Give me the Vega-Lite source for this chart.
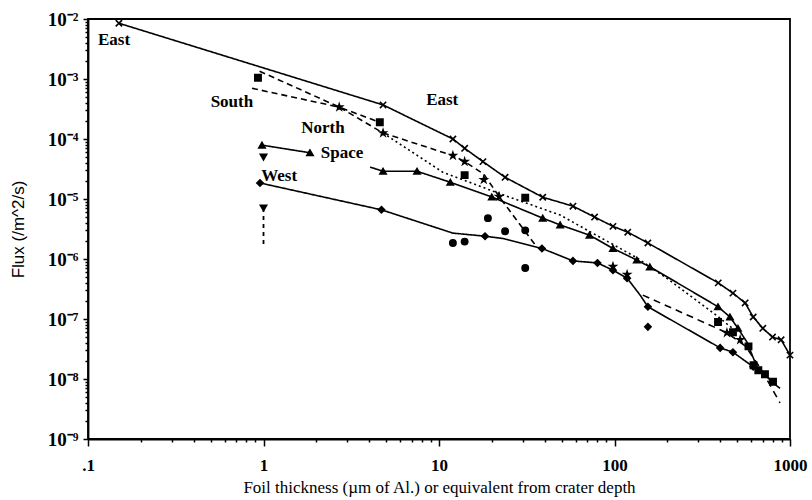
{
  "$schema": "https://vega.github.io/schema/vega-lite/v6.json",
  "autosize": "none",
  "width": 702,
  "height": 420,
  "padding": {"left": 88, "top": 19, "right": 22, "bottom": 61},
  "background": "white",
  "config": {
    "view": {"stroke": "black", "strokeWidth": 1.8},
    "axis": {"domainColor": "black", "domainWidth": 1.8, "tickColor": "black", "labelColor": "black", "titleColor": "black", "grid": false}
  },
  "datasets": {
    "lines": [
      {"series": "East", "x": 0.15, "y": 8.5e-3}, {"series": "East", "x": 4.8, "y": 3.7e-4}, {"series": "East", "x": 12, "y": 1e-4}, {"series": "East", "x": 14, "y": 7e-5}, {"series": "East", "x": 17.8, "y": 4.2e-5}, {"series": "East", "x": 23.8, "y": 2.3e-5}, {"series": "East", "x": 39, "y": 1.07e-5}, {"series": "East", "x": 58, "y": 7.6e-6}, {"series": "East", "x": 77, "y": 5e-6}, {"series": "East", "x": 98, "y": 3.5e-6}, {"series": "East", "x": 119, "y": 2.8e-6}, {"series": "East", "x": 155, "y": 1.85e-6}, {"series": "East", "x": 390, "y": 4e-7}, {"series": "East", "x": 473, "y": 2.7e-7}, {"series": "East", "x": 555, "y": 1.85e-7}, {"series": "East", "x": 617, "y": 1.08e-7}, {"series": "East", "x": 700, "y": 7e-8}, {"series": "East", "x": 795, "y": 5e-8}, {"series": "East", "x": 890, "y": 4.5e-8}, {"series": "East", "x": 1000, "y": 2.5e-8},
      {"series": "South", "x": 0.95, "y": 1.35e-3}, {"series": "South", "x": 2.7, "y": 3.4e-4}, {"series": "South", "x": 4.6, "y": 1.9e-4},
      {"series": "North", "x": 0.86, "y": 7e-4}, {"series": "North", "x": 2.7, "y": 3.4e-4}, {"series": "North", "x": 4.8, "y": 1.26e-4}, {"series": "North", "x": 12, "y": 5.3e-5}, {"series": "North", "x": 14, "y": 4.2e-5}, {"series": "North", "x": 18, "y": 2.6e-5}, {"series": "North", "x": 22, "y": 1.1e-5}, {"series": "North", "x": 36, "y": 1.6e-6},
      {"series": "North (dotted)", "x": 4.8, "y": 1.26e-4}, {"series": "North (dotted)", "x": 10.5, "y": 2.8e-5}, {"series": "North (dotted)", "x": 21, "y": 1.3e-5}, {"series": "North (dotted)", "x": 49, "y": 5.4e-6}, {"series": "North (dotted)", "x": 134, "y": 1.05e-6}, {"series": "North (dotted)", "x": 200, "y": 4.7e-7}, {"series": "North (dotted)", "x": 389, "y": 1.1e-7}, {"series": "North (dotted)", "x": 500, "y": 6e-8},
      {"series": "Space (start)", "x": 0.98, "y": 7.9e-5}, {"series": "Space (start)", "x": 1.84, "y": 5.9e-5},
      {"series": "Space", "x": 4.05, "y": 3.4e-5}, {"series": "Space", "x": 4.8, "y": 2.9e-5}, {"series": "Space", "x": 7.5, "y": 2.9e-5}, {"series": "Space", "x": 11.6, "y": 1.9e-5}, {"series": "Space", "x": 20, "y": 1.08e-5}, {"series": "Space", "x": 39, "y": 4.8e-6}, {"series": "Space", "x": 49, "y": 3.7e-6}, {"series": "Space", "x": 72, "y": 2.5e-6}, {"series": "Space", "x": 98, "y": 1.5e-6}, {"series": "Space", "x": 134, "y": 9.6e-7}, {"series": "Space", "x": 159, "y": 7.4e-7}, {"series": "Space", "x": 182, "y": 5.9e-7}, {"series": "Space", "x": 389, "y": 1.6e-7}, {"series": "Space", "x": 455, "y": 1.08e-7}, {"series": "Space", "x": 505, "y": 7e-8}, {"series": "Space", "x": 569, "y": 4.1e-8}, {"series": "Space", "x": 647, "y": 1.6e-8}, {"series": "Space", "x": 800, "y": 8.6e-9}, {"series": "Space", "x": 877, "y": 7e-9},
      {"series": "West", "x": 0.955, "y": 1.85e-5}, {"series": "West", "x": 4.7, "y": 6.6e-6}, {"series": "West", "x": 12, "y": 2.7e-6}, {"series": "West", "x": 18.3, "y": 2.4e-6}, {"series": "West", "x": 23, "y": 2.2e-6}, {"series": "West", "x": 38.6, "y": 1.5e-6}, {"series": "West", "x": 58, "y": 9.3e-7}, {"series": "West", "x": 80, "y": 8.6e-7}, {"series": "West", "x": 98, "y": 6.5e-7}, {"series": "West", "x": 118, "y": 4.8e-7}, {"series": "West", "x": 140, "y": 2.5e-7}, {"series": "West", "x": 155, "y": 1.6e-7}, {"series": "West", "x": 400, "y": 3.3e-8}, {"series": "West", "x": 473, "y": 2.8e-8}, {"series": "West", "x": 617, "y": 1.6e-8}, {"series": "West", "x": 700, "y": 1.25e-8}, {"series": "West", "x": 800, "y": 9e-9},
      {"series": "West (dashed)", "x": 145, "y": 2.5e-7}, {"series": "West (dashed)", "x": 437, "y": 5.9e-8}, {"series": "West (dashed)", "x": 560, "y": 3.5e-8}, {"series": "West (dashed)", "x": 700, "y": 1.3e-8}, {"series": "West (dashed)", "x": 877, "y": 4e-9}
    ],
    "points": [
      {"series": "East", "x": 0.15, "y": 8.5e-3}, {"series": "East", "x": 4.8, "y": 3.7e-4}, {"series": "East", "x": 12, "y": 1e-4}, {"series": "East", "x": 14, "y": 7e-5}, {"series": "East", "x": 17.8, "y": 4.2e-5}, {"series": "East", "x": 23.8, "y": 2.3e-5}, {"series": "East", "x": 39, "y": 1.07e-5}, {"series": "East", "x": 58, "y": 7.6e-6}, {"series": "East", "x": 77, "y": 5e-6}, {"series": "East", "x": 98, "y": 3.5e-6}, {"series": "East", "x": 119, "y": 2.8e-6}, {"series": "East", "x": 155, "y": 1.85e-6}, {"series": "East", "x": 390, "y": 4e-7}, {"series": "East", "x": 473, "y": 2.7e-7}, {"series": "East", "x": 555, "y": 1.85e-7}, {"series": "East", "x": 617, "y": 1.08e-7}, {"series": "East", "x": 700, "y": 7e-8}, {"series": "East", "x": 795, "y": 5e-8}, {"series": "East", "x": 890, "y": 4.5e-8}, {"series": "East", "x": 1000, "y": 2.5e-8},
      {"series": "South", "x": 0.93, "y": 1.05e-3}, {"series": "South", "x": 4.6, "y": 1.9e-4}, {"series": "South", "x": 14, "y": 2.5e-5}, {"series": "South", "x": 31, "y": 1.05e-5}, {"series": "South", "x": 389, "y": 8.9e-8}, {"series": "South", "x": 473, "y": 6e-8}, {"series": "South", "x": 580, "y": 3.5e-8}, {"series": "South", "x": 620, "y": 1.7e-8}, {"series": "South", "x": 660, "y": 1.4e-8}, {"series": "South", "x": 720, "y": 1.2e-8}, {"series": "South", "x": 800, "y": 9e-9},
      {"series": "North", "x": 2.7, "y": 3.4e-4}, {"series": "North", "x": 4.8, "y": 1.26e-4}, {"series": "North", "x": 12, "y": 5.3e-5}, {"series": "North", "x": 14, "y": 4.2e-5}, {"series": "North", "x": 18, "y": 2.1e-5}, {"series": "North", "x": 22, "y": 1.1e-5}, {"series": "North", "x": 98, "y": 7.5e-7}, {"series": "North", "x": 118, "y": 5.5e-7}, {"series": "North", "x": 437, "y": 5.9e-8}, {"series": "North", "x": 520, "y": 4.5e-8},
      {"series": "Space", "x": 0.98, "y": 7.9e-5}, {"series": "Space", "x": 1.84, "y": 5.9e-5}, {"series": "Space", "x": 4.8, "y": 2.9e-5}, {"series": "Space", "x": 7.5, "y": 2.9e-5}, {"series": "Space", "x": 11.6, "y": 1.9e-5}, {"series": "Space", "x": 20, "y": 1.08e-5}, {"series": "Space", "x": 39, "y": 4.8e-6}, {"series": "Space", "x": 49, "y": 3.7e-6}, {"series": "Space", "x": 72, "y": 2.5e-6}, {"series": "Space", "x": 98, "y": 1.5e-6}, {"series": "Space", "x": 134, "y": 9.6e-7}, {"series": "Space", "x": 159, "y": 7.4e-7}, {"series": "Space", "x": 389, "y": 1.6e-7}, {"series": "Space", "x": 455, "y": 1.08e-7}, {"series": "Space", "x": 505, "y": 7e-8},
      {"series": "West", "x": 0.955, "y": 1.85e-5}, {"series": "West", "x": 4.7, "y": 6.6e-6}, {"series": "West", "x": 18.3, "y": 2.4e-6}, {"series": "West", "x": 38.6, "y": 1.5e-6}, {"series": "West", "x": 58, "y": 9.3e-7}, {"series": "West", "x": 80, "y": 8.6e-7}, {"series": "West", "x": 98, "y": 6.5e-7}, {"series": "West", "x": 118, "y": 4.8e-7}, {"series": "West", "x": 155, "y": 1.6e-7}, {"series": "West", "x": 400, "y": 3.3e-8}, {"series": "West", "x": 473, "y": 2.8e-8}, {"series": "West", "x": 617, "y": 1.6e-8}, {"series": "West", "x": 155, "y": 7.4e-8},
      {"series": "West (single)", "x": 12, "y": 1.85e-6}, {"series": "West (single)", "x": 14, "y": 1.95e-6}, {"series": "West (single)", "x": 19, "y": 4.8e-6}, {"series": "West (single)", "x": 23.8, "y": 2.9e-6}, {"series": "West (single)", "x": 31, "y": 3e-6}, {"series": "West (single)", "x": 31, "y": 7.1e-7},
      {"series": "Upper limit", "x": 1, "y": 5e-5}, {"series": "Upper limit", "x": 1, "y": 7.1e-6}
    ],
    "limits": [{"x": 1, "y": 7.1e-6, "y2": 1.7e-6}],
    "labels": [
      {"text": "East", "x": 0.114, "y": 4.4e-3},
      {"text": "South", "x": 0.5, "y": 4.1e-4},
      {"text": "North", "x": 1.64, "y": 1.5e-4},
      {"text": "Space", "x": 2.12, "y": 5.9e-5},
      {"text": "West", "x": 0.97, "y": 2.4e-5},
      {"text": "East", "x": 8.45, "y": 4.5e-4}
    ]
  },
  "layer": [
    {
      "data": {"name": "lines"},
      "mark": {"type": "line", "color": "black", "strokeWidth": 1.6, "clip": true},
      "encoding": {
        "x": {"field": "x", "type": "quantitative", "scale": {"type": "log", "domain": [0.1, 1000], "nice": false},
          "axis": {
            "title": "Foil thickness (µm of Al.) or equivalent from crater depth",
            "titleFont": "Liberation Serif", "titleFontSize": 17, "titleFontWeight": "normal", "titlePadding": 6,
            "labelFont": "Liberation Serif", "labelFontSize": 17, "labelFontWeight": "bold", "labelPadding": 11,
            "labelOverlap": false, "labelBound": false, "labelFlush": false,
            "values": [0.1,0.2,0.3,0.4,0.5,0.6,0.7,0.8,0.9,1,2,3,4,5,6,7,8,9,10,20,30,40,50,60,70,80,90,100,200,300,400,500,600,700,800,900,1000],
            "labelExpr": "abs(log(datum.value)/LN10 - round(log(datum.value)/LN10)) < 1e-6 ? (datum.value < 0.5 ? '.1' : format(datum.value, 'd')) : ''",
            "tickSize": {"condition": {"test": "abs(log(datum.value)/LN10 - round(log(datum.value)/LN10)) < 1e-6", "value": 7}, "value": 3},
            "tickWidth": 1.5
          }},
        "y": {"field": "y", "type": "quantitative", "scale": {"type": "log", "domain": [1e-9, 1e-2], "nice": false},
          "axis": {
            "title": "Flux (/m^2/s)",
            "titleFont": "Liberation Sans", "titleFontSize": 17, "titleFontWeight": "normal", "titlePadding": 20,
            "labelFont": "Liberation Serif", "labelFontSize": 19, "labelFontWeight": "bold", "labelPadding": 5,
            "labelOverlap": false, "labelBound": false, "labelFlush": false,
            "values": [1e-9,2e-9,3e-9,4e-9,5e-9,6e-9,7e-9,8e-9,9e-9,1e-8,2e-8,3e-8,4e-8,5e-8,6e-8,7e-8,8e-8,9e-8,1e-7,2e-7,3e-7,4e-7,5e-7,6e-7,7e-7,8e-7,9e-7,1e-6,2e-6,3e-6,4e-6,5e-6,6e-6,7e-6,8e-6,9e-6,1e-5,2e-5,3e-5,4e-5,5e-5,6e-5,7e-5,8e-5,9e-5,1e-4,2e-4,3e-4,4e-4,5e-4,6e-4,7e-4,8e-4,9e-4,1e-3,2e-3,3e-3,4e-3,5e-3,6e-3,7e-3,8e-3,9e-3,1e-2],
            "labelExpr": "abs(log(datum.value)/LN10 - round(log(datum.value)/LN10)) < 1e-6 ? '10⁻' + ['⁰','¹','²','³','⁴','⁵','⁶','⁷','⁸','⁹'][-round(log(datum.value)/LN10)] : ''",
            "tickSize": {"condition": {"test": "abs(log(datum.value)/LN10 - round(log(datum.value)/LN10)) < 1e-6", "value": 5}, "value": 3},
            "tickWidth": 1.5
          }},
        "detail": {"field": "series"},
        "strokeDash": {"field": "series", "type": "nominal", "legend": null,
          "scale": {"domain": ["East", "South", "North", "North (dotted)", "Space", "Space (start)", "West", "West (dashed)"],
                    "range": [[1, 0], [6, 4], [6, 4], [2, 3], [1, 0], [1, 0], [1, 0], [7, 5]]}}
      }
    },
    {
      "data": {"name": "limits"},
      "mark": {"type": "rule", "color": "black", "strokeWidth": 1.8, "strokeDash": [4, 4]},
      "encoding": {
        "x": {"field": "x", "type": "quantitative"},
        "y": {"field": "y", "type": "quantitative"},
        "y2": {"field": "y2"}
      }
    },
    {
      "data": {"name": "points"},
      "mark": {"type": "point", "filled": true, "color": "black", "stroke": "black", "strokeWidth": 1.6, "opacity": 1, "size": 40},
      "encoding": {
        "x": {"field": "x", "type": "quantitative"},
        "y": {"field": "y", "type": "quantitative"},
        "shape": {"field": "series", "type": "nominal", "legend": null,
          "scale": {"domain": ["East", "South", "North", "Space", "West", "West (single)", "Upper limit"],
                    "range": ["M-1,-1L1,1M-1,1L1,-1", "square", "M0,-1L0.22,-0.31L0.95,-0.31L0.36,0.12L0.59,0.81L0,0.38L-0.59,0.81L-0.36,0.12L-0.95,-0.31L-0.22,-0.31Z", "triangle-up", "diamond", "circle", "triangle-down"]}}
      }
    },
    {
      "data": {"name": "labels"},
      "mark": {"type": "text", "align": "left", "baseline": "middle", "font": "Liberation Serif", "fontSize": 17, "fontWeight": "bold", "color": "black"},
      "encoding": {
        "x": {"field": "x", "type": "quantitative"},
        "y": {"field": "y", "type": "quantitative"},
        "text": {"field": "text"}
      }
    }
  ]
}
